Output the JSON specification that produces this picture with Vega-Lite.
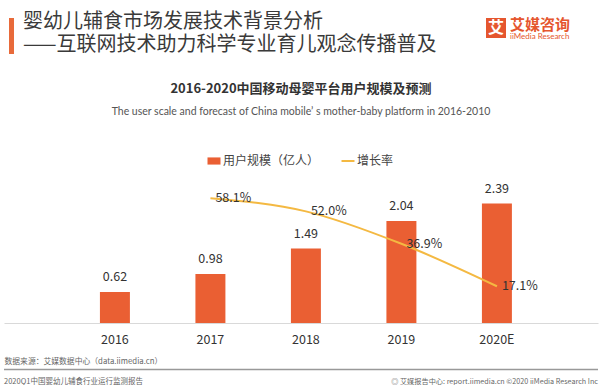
{
  "$schema": "https://vega.github.io/schema/vega-lite/v6.json",
  "background": "white",
  "padding": {"left": 3, "top": 12, "right": 3, "bottom": 0},
  "config": {"view": {"stroke": null}, "font": "Noto Sans CJK SC", "legend": {"layout": {"top": {"anchor": "middle"}}}},
  "spacing": 2,
  "resolve": {"legend": {"color": "independent"}, "scale": {"color": "independent"}},
  "vconcat": [
    {
      "spacing": 4,
      "hconcat": [
        {"width": 1, "height": 1, "data": {"values": []}, "mark": "text", "encoding": {}},
        {"width": 5, "height": 36, "view": {"fill": "#E86A3A", "stroke": null}, "data": {"values": []}, "mark": "text", "encoding": {}},
        {"width": 1, "height": 1, "data": {"values": []}, "mark": "text", "encoding": {}},
        {
          "width": 459, "height": 1,
          "data": {"values": []}, "mark": "text", "encoding": {},
          "title": {"text": ["婴幼儿辅食市场发展技术背景分析", "——互联网技术助力科学专业育儿观念传播普及"], "orient": "bottom", "anchor": "start", "fontSize": 20, "lineHeight": 23, "font": "Noto Sans CJK SC", "fontWeight": "normal", "color": "#3a3a3a", "offset": 0, "dy": -7}
        },
        {
          "width": 20, "height": 20,
          "view": {"fill": "#E5562E", "stroke": null},
          "data": {"values": [{"t": "艾"}]},
          "mark": {"type": "text", "color": "white", "fontSize": 16, "fontWeight": "bold", "font": "Noto Sans CJK SC"},
          "encoding": {"text": {"field": "t"}}
        },
        {
          "width": 60, "height": 1,
          "data": {"values": []}, "mark": "text", "encoding": {},
          "title": {"text": "艾媒咨询", "subtitle": "iiMedia Research", "orient": "bottom", "anchor": "start", "fontSize": 15, "fontWeight": "bold", "font": "Noto Sans CJK SC", "color": "#E5562E", "subtitleColor": "#E5562E", "subtitleFontSize": 8, "subtitleFont": "Lato", "subtitlePadding": 0, "offset": 0, "dy": -1}
        },
        {"width": 1, "height": 62, "data": {"values": []}, "mark": "text", "encoding": {}}
      ]
    },
    {
      "width": 594,
      "height": 146,
      "title": {
        "text": "2016-2020中国移动母婴平台用户规模及预测",
        "subtitle": "The user scale and forecast of China mobile’ s mother-baby platform in 2016-2010",
        "anchor": "middle", "fontSize": 13, "fontWeight": "bold", "font": "Noto Sans CJK SC", "color": "#333",
        "subtitleFont": "Lato", "subtitleFontSize": 10.5, "subtitleColor": "#555", "subtitlePadding": 11, "offset": 38
      },
      "data": {"values": [
        {"year": "2016", "users": 0.62, "rate": null},
        {"year": "2017", "users": 0.98, "rate": 0.581},
        {"year": "2018", "users": 1.49, "rate": 0.52},
        {"year": "2019", "users": 2.04, "rate": 0.369},
        {"year": "2020E", "users": 2.39, "rate": 0.171}
      ]},
      "encoding": {
        "x": {
          "field": "year", "type": "nominal", "sort": null,
          "scale": {"paddingInner": 0.686, "paddingOuter": 0.953, "align": 0.527},
          "axis": {
            "title": "数据来源：艾媒数据中心（data.iimedia.cn）",
            "titleAnchor": "start", "titleFont": "Noto Sans CJK SC", "titleFontSize": 7.8, "titleFontWeight": "normal", "titleColor": "#666", "titlePadding": 12,
            "labelAngle": 0, "labelFont": "Noto Sans CJK SC", "labelFontSize": 12.5, "labelColor": "#333", "labelPadding": 10,
            "ticks": false, "domainColor": "#D9D9D9", "grid": false
          }
        }
      },
      "layer": [
        {
          "mark": {"type": "bar", "color": "#EA5F33"},
          "encoding": {
            "y": {"field": "users", "type": "quantitative", "scale": {"domain": [0, 2.92]}, "axis": null},
            "color": {
              "datum": "用户规模（亿人）",
              "scale": {"domain": ["用户规模（亿人）", "增长率"], "range": ["#EA5F33", "#F4B942"]},
              "legend": {
                "title": null, "orient": "top", "direction": "horizontal", "offset": 10,
                "labelFont": "Noto Sans CJK SC", "labelFontSize": 12, "labelColor": "#444", "labelOffset": 3,
                "columnPadding": 17, "symbolSize": 169,
                "encode": {"symbols": {"update": {
                  "shape": {"signal": "datum.value === '增长率' ? 'M-1,0L1,0' : 'M-1,-0.55L1,-0.55L1,0.55L-1,0.55Z'"},
                  "fill": {"signal": "datum.value === '增长率' ? 'transparent' : scale('color', datum.value)"},
                  "stroke": {"signal": "scale('color', datum.value)"},
                  "strokeWidth": {"signal": "datum.value === '增长率' ? 2 : 0"},
                  "opacity": {"value": 1}
                }}}
              }
            }
          }
        },
        {
          "mark": {"type": "text", "baseline": "bottom", "dy": -8, "fontSize": 12.5, "color": "#333", "font": "Noto Sans CJK SC"},
          "encoding": {
            "y": {"field": "users", "type": "quantitative", "scale": {"domain": [0, 2.92]}, "axis": null},
            "text": {"field": "users", "type": "quantitative", "format": ".2f"}
          }
        },
        {
          "mark": {"type": "line", "interpolate": "monotone", "strokeWidth": 2},
          "encoding": {
            "y": {"field": "rate", "type": "quantitative", "scale": {"domain": [0, 0.68]}, "axis": null},
            "color": {"datum": "增长率"}
          }
        },
        {
          "mark": {"type": "text", "align": "left", "dx": 5, "baseline": "middle", "fontSize": 12.5, "color": "#333", "font": "Noto Sans CJK SC"},
          "encoding": {
            "y": {"field": "rate", "type": "quantitative", "scale": {"domain": [0, 0.68]}, "axis": null},
            "text": {"field": "rate", "type": "quantitative", "format": ".1%"}
          }
        }
      ],
      "resolve": {"scale": {"y": "independent"}}
    },
    {
      "width": 594, "height": 1,
      "layer": [
        {
          "data": {"values": [{"a": 1}]},
          "mark": {"type": "rule", "color": "#999999", "strokeWidth": 1.5},
          "encoding": {
            "x": {"datum": 0, "type": "quantitative", "scale": {"domain": [0, 1]}, "axis": null},
            "x2": {"datum": 1}
          }
        },
        {
          "data": {"values": [{"t": "2020Q1中国婴幼儿辅食行业运行监测报告"}]},
          "mark": {"type": "text", "align": "left", "baseline": "top", "dy": 8, "fontSize": 7.5, "color": "#666", "font": "Noto Sans CJK SC"},
          "encoding": {"text": {"field": "t"}, "x": {"datum": 0, "type": "quantitative", "scale": {"domain": [0, 1]}, "axis": null}}
        },
        {
          "data": {"values": [{"t": "◎ 艾媒报告中心: report.iimedia.cn ©2020 iiMedia Research Inc"}]},
          "mark": {"type": "text", "align": "right", "baseline": "top", "dy": 8, "fontSize": 7.2, "color": "#666", "font": "Noto Sans CJK SC"},
          "encoding": {"text": {"field": "t"}, "x": {"datum": 1, "type": "quantitative", "scale": {"domain": [0, 1]}, "axis": null}}
        }
      ]
    }
  ]
}
